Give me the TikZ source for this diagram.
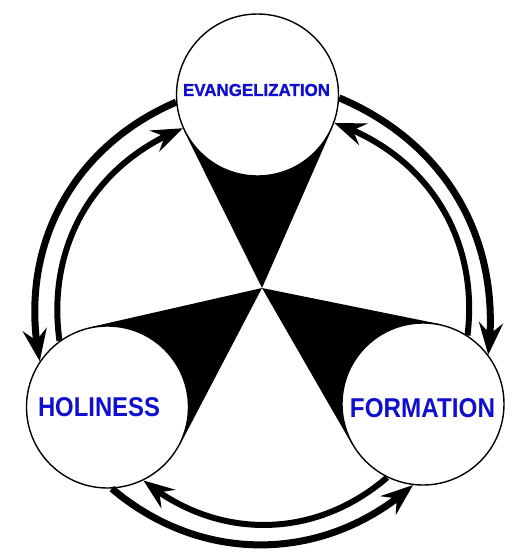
\documentclass[tikz,border=0pt]{standalone}
\usepackage{fontspec}
\usepackage{graphicx}
\setmainfont{Liberation Sans}
\newfontfamily\heavysans{Liberation Sans Bold}[FakeBold=1.2]
\usetikzlibrary{calc,arrows.meta,bending,backgrounds}
\definecolor{lblblue}{RGB}{15,15,205}
\begin{document}
\begin{tikzpicture}[x=1pt,y=-1pt,
  ring/.style={circle,draw=black,line width=1.4pt,fill=white,minimum size=162pt,inner sep=0pt},
  lbl/.style={inner sep=0pt,text=lblblue,font=\bfseries},
  outerarc/.style={line width=7pt,-{Stealth[length=32pt,width=24pt,inset=11pt]}},
  innerarc/.style={line width=6pt,-{Stealth[length=31pt,width=23pt,inset=11pt]}},
  wedge/.style={fill=black}]
\useasboundingbox (0,0) rectangle (520,555);
\coordinate (v) at (262,288);
\node[ring] (top) at (257.5,95) {};
\node[ring] (hol) at (107.5,407) {};
\node[ring] (frm) at (423,404) {};
\begin{scope}[on background layer]
\fill[white] (0,0) rectangle (520,555);
\fill[wedge] (v) -- (tangent cs:node=top,point={(v)},solution=1) -- (top.center) -- (tangent cs:node=top,point={(v)},solution=2) -- cycle;
\fill[wedge] (v) -- (tangent cs:node=hol,point={(v)},solution=1) -- (hol.center) -- (tangent cs:node=hol,point={(v)},solution=2) -- cycle;
\fill[wedge] (v) -- (tangent cs:node=frm,point={(v)},solution=1) -- (frm.center) -- (tangent cs:node=frm,point={(v)},solution=2) -- cycle;
\end{scope}
\draw[outerarc] (top.185) to[bend right=39] (hol.146);
\draw[innerarc] (hol.126) to[bend left=38] (top.204);
\draw[outerarc] (top.358) to[bend left=37] (frm.37);
\draw[innerarc] (frm.57) to[bend right=39] (top.340);
\draw[outerarc] (hol.273) to[bend right=41] (frm.263);
\draw[innerarc] (frm.244) to[bend left=40] (hol.296);
\node[lbl] (evtxt) at (256.5,90) {\resizebox{147pt}{12pt}{\heavysans EVANGELIZATION}};
\node[lbl] (holtxt) at (99,407) {\resizebox{122pt}{19pt}{HOLINESS}};
\node[lbl] (frmtxt) at (422.5,408) {\resizebox{145pt}{19pt}{FORMATION}};
\end{tikzpicture}
\end{document}
